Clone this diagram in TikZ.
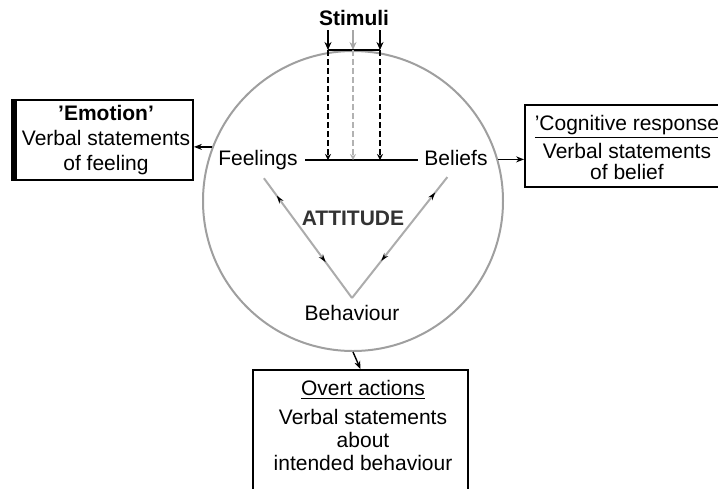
\documentclass[tikz,border=0pt]{standalone}
\usepackage{fontspec}
\setmainfont{Liberation Sans}
\usetikzlibrary{arrows.meta,decorations.markings}
\begin{document}
\begin{tikzpicture}[x=0.5pt,y=-0.5pt,
  txt/.style={font=\fontsize{10.5}{12.5}\selectfont, inner sep=0pt, align=center},
  boxshape/.style={draw=black, line width=0.9pt, fill=white, inner sep=0pt},
  conn/.style={-{Stealth[length=4pt,width=3pt]}, line width=0.7pt, black},
  stim/.style={-{Stealth[length=4pt,width=3.5pt]}, line width=1.3pt},
  stimdash/.style={-{Stealth[length=3pt,width=3pt]}, line width=1.3pt, dash pattern=on 3pt off 1.5pt},
  vline/.style={draw=gray!65, line width=1pt, postaction={decorate},
    decoration={markings,
      mark=at position 0.2 with {\arrowreversed{Stealth[length=4pt,width=2.5pt,color=black]}},
      mark=at position 0.72 with {\arrow{Stealth[length=4pt,width=2.5pt,color=black]}}}}
]
\useasboundingbox (0,0) rectangle (718,488);
\clip (0,0) rectangle (718,488);

% circle
\node[circle, draw=gray!75, line width=1pt, minimum size=150pt, inner sep=0pt] (C) at (353,201) {};

% labels inside
\node[txt, font=\fontsize{10.5}{12.5}\selectfont\bfseries] (st) at (354,18) {Stimuli};
\node[txt] (fe) at (258,160) {Feelings};
\node[txt] (be) at (456,158) {Beliefs};
\node[txt, font=\fontsize{10.5}{12.5}\selectfont\bfseries, text=black!80] (att) at (353,218) {ATTITUDE};
\node[txt] (bh) at (352,313) {Behaviour};

% horizontal line
\coordinate (hl) at (305,160);
\coordinate (hr) at (418,160);
\draw[line width=1pt] (hl) -- (hr);

% stimuli arrows
\coordinate (s1) at (328,30);
\coordinate (s2) at (353,30);
\coordinate (s3) at (380,30);
\draw[stim] (s1) -- (s1 |- C.north);
\draw[stim, gray!70] (s2) -- (s2 |- C.north);
\draw[stim] (s3) -- (s3 |- C.north);
\draw[line width=1.2pt] (s1 |- C.north) -- (s3 |- C.north);
\draw[stimdash] (s1 |- C.north) -- (s1 |- hl);
\draw[stimdash, gray!60] (s2 |- C.north) -- (s2 |- hl);
\draw[stimdash] (s3 |- C.north) -- (s3 |- hl);

% V lines
\coordinate (vtx) at (352,298);
\draw[vline, shorten <=5pt] (fe.south) -- (vtx);
\draw[vline, shorten <=7pt] (be.south) -- (vtx);

% left box
\node[boxshape, minimum width=90.5pt, minimum height=40pt] (emo) at (102.5,140) {};
\draw[line width=3pt] ([xshift=1.2pt]emo.north west) -- ([xshift=1.2pt]emo.south west);
\node[txt] (emotxt) at (106,140) {\textbf{'Emotion'}\\Verbal statements\\of feeling};

% right box
\node[boxshape, minimum width=105pt, minimum height=41pt] (cog) at (630,146) {};
\node[txt] (cogtxt) at (627,147) {\underline{'Cognitive response}\\[1.5pt]Verbal statements\\[-2pt]of belief};

% bottom box
\node[boxshape, minimum width=107.5pt, minimum height=65pt] (ov) at (360.5,435) {};
\node[txt] (ovtxt) at (363,425) {\underline{Overt actions}\\[2pt]Verbal statements\\[-1pt]about\\[-1pt]intended behaviour};

% connectors to boxes
\draw[conn] (C.159) -- (C.159 -| emo.east);
\draw[conn] (C.16) -- (C.16 -| cog.west);
\draw[conn] (C.south) -- (ov.north);
\end{tikzpicture}
\end{document}
